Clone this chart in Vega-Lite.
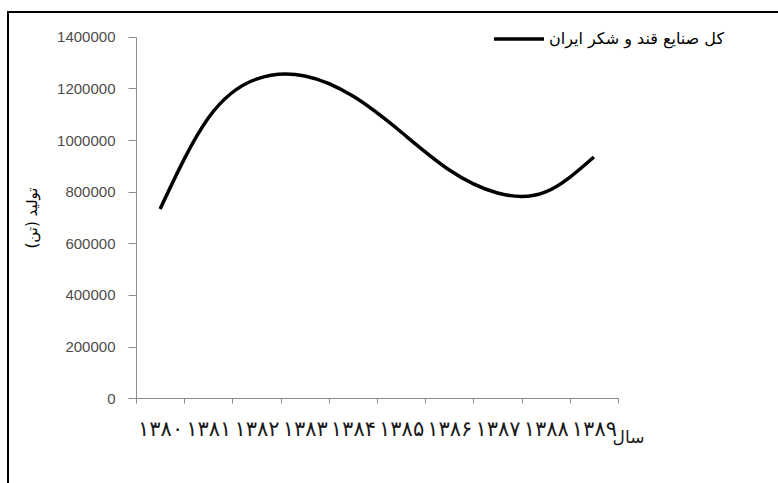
{
  "$schema": "https://vega.github.io/schema/vega-lite/v6.json",
  "width": 780,
  "height": 481,
  "autosize": {"type": "none"},
  "padding": {"left": 8, "top": 12, "right": -10, "bottom": -10},
  "background": "white",
  "config": {"view": {"stroke": "black", "strokeWidth": 2}},
  "data": {
    "values": [
      {"year": 1380, "label": "۱۳۸۰", "value": 733000},
      {"year": 1381, "label": "۱۳۸۱", "value": 1085000},
      {"year": 1382, "label": "۱۳۸۲", "value": 1236000},
      {"year": 1383, "label": "۱۳۸۳", "value": 1248000},
      {"year": 1384, "label": "۱۳۸۴", "value": 1170000},
      {"year": 1385, "label": "۱۳۸۵", "value": 1031000},
      {"year": 1386, "label": "۱۳۸۶", "value": 884000},
      {"year": 1387, "label": "۱۳۸۷", "value": 795000},
      {"year": 1388, "label": "۱۳۸۸", "value": 799000},
      {"year": 1389, "label": "۱۳۸۹", "value": 934000}
    ]
  },
  "mark": {"type": "line", "interpolate": "natural", "strokeWidth": 3.5},
  "encoding": {
    "x": {
      "field": "label",
      "type": "ordinal",
      "sort": null,
      "scale": {"type": "band", "range": [128, 610], "paddingInner": 0, "paddingOuter": 0},
      "axis": {
        "orient": "bottom",
        "offset": -95,
        "grid": false,
        "domainColor": "#8c8c8c",
        "tickColor": "#8c8c8c",
        "tickSize": 5,
        "tickBand": "extent",
        "labelAngle": 0,
        "labelOverlap": false,
        "labelFont": "DejaVu Sans",
        "labelFontSize": 21,
        "labelColor": "#1a1a1a",
        "labelPadding": 15,
        "title": "سال",
        "titleFont": "DejaVu Sans",
        "titleFontSize": 17,
        "titleFontWeight": "normal",
        "titleColor": "#1a1a1a",
        "titleX": 620,
        "titleY": 39,
        "titleAlign": "center",
        "titleBaseline": "middle",
        "titleAngle": 0
      }
    },
    "y": {
      "field": "value",
      "type": "quantitative",
      "scale": {"domain": [0, 1400000], "range": [386.3, 24.7], "nice": false, "zero": true},
      "axis": {
        "orient": "left",
        "offset": -128,
        "grid": false,
        "values": [0, 200000, 400000, 600000, 800000, 1000000, 1200000, 1400000],
        "format": "d",
        "domainColor": "#8c8c8c",
        "tickColor": "#8c8c8c",
        "tickSize": 8,
        "labelFont": "Liberation Sans",
        "labelFontSize": 15,
        "labelColor": "#4d4d4d",
        "labelPadding": 13,
        "title": "تولید (تن)",
        "titleFont": "DejaVu Sans",
        "titleFontSize": 15,
        "titleFontWeight": "normal",
        "titleColor": "black",
        "titleX": -105,
        "titleBaseline": "middle"
      }
    },
    "color": {
      "datum": "کل صنایع قند و شکر ایران",
      "type": "nominal",
      "scale": {"range": ["black"]},
      "legend": {
        "orient": "none",
        "legendX": 484,
        "legendY": 0,
        "title": null,
        "symbolType": "stroke",
        "symbolSize": 2500,
        "symbolStrokeWidth": 3.5,
        "labelFont": "DejaVu Sans",
        "labelFontSize": 16,
        "labelColor": "black",
        "labelOffset": 3,
        "labelLimit": 0
      }
    }
  }
}
